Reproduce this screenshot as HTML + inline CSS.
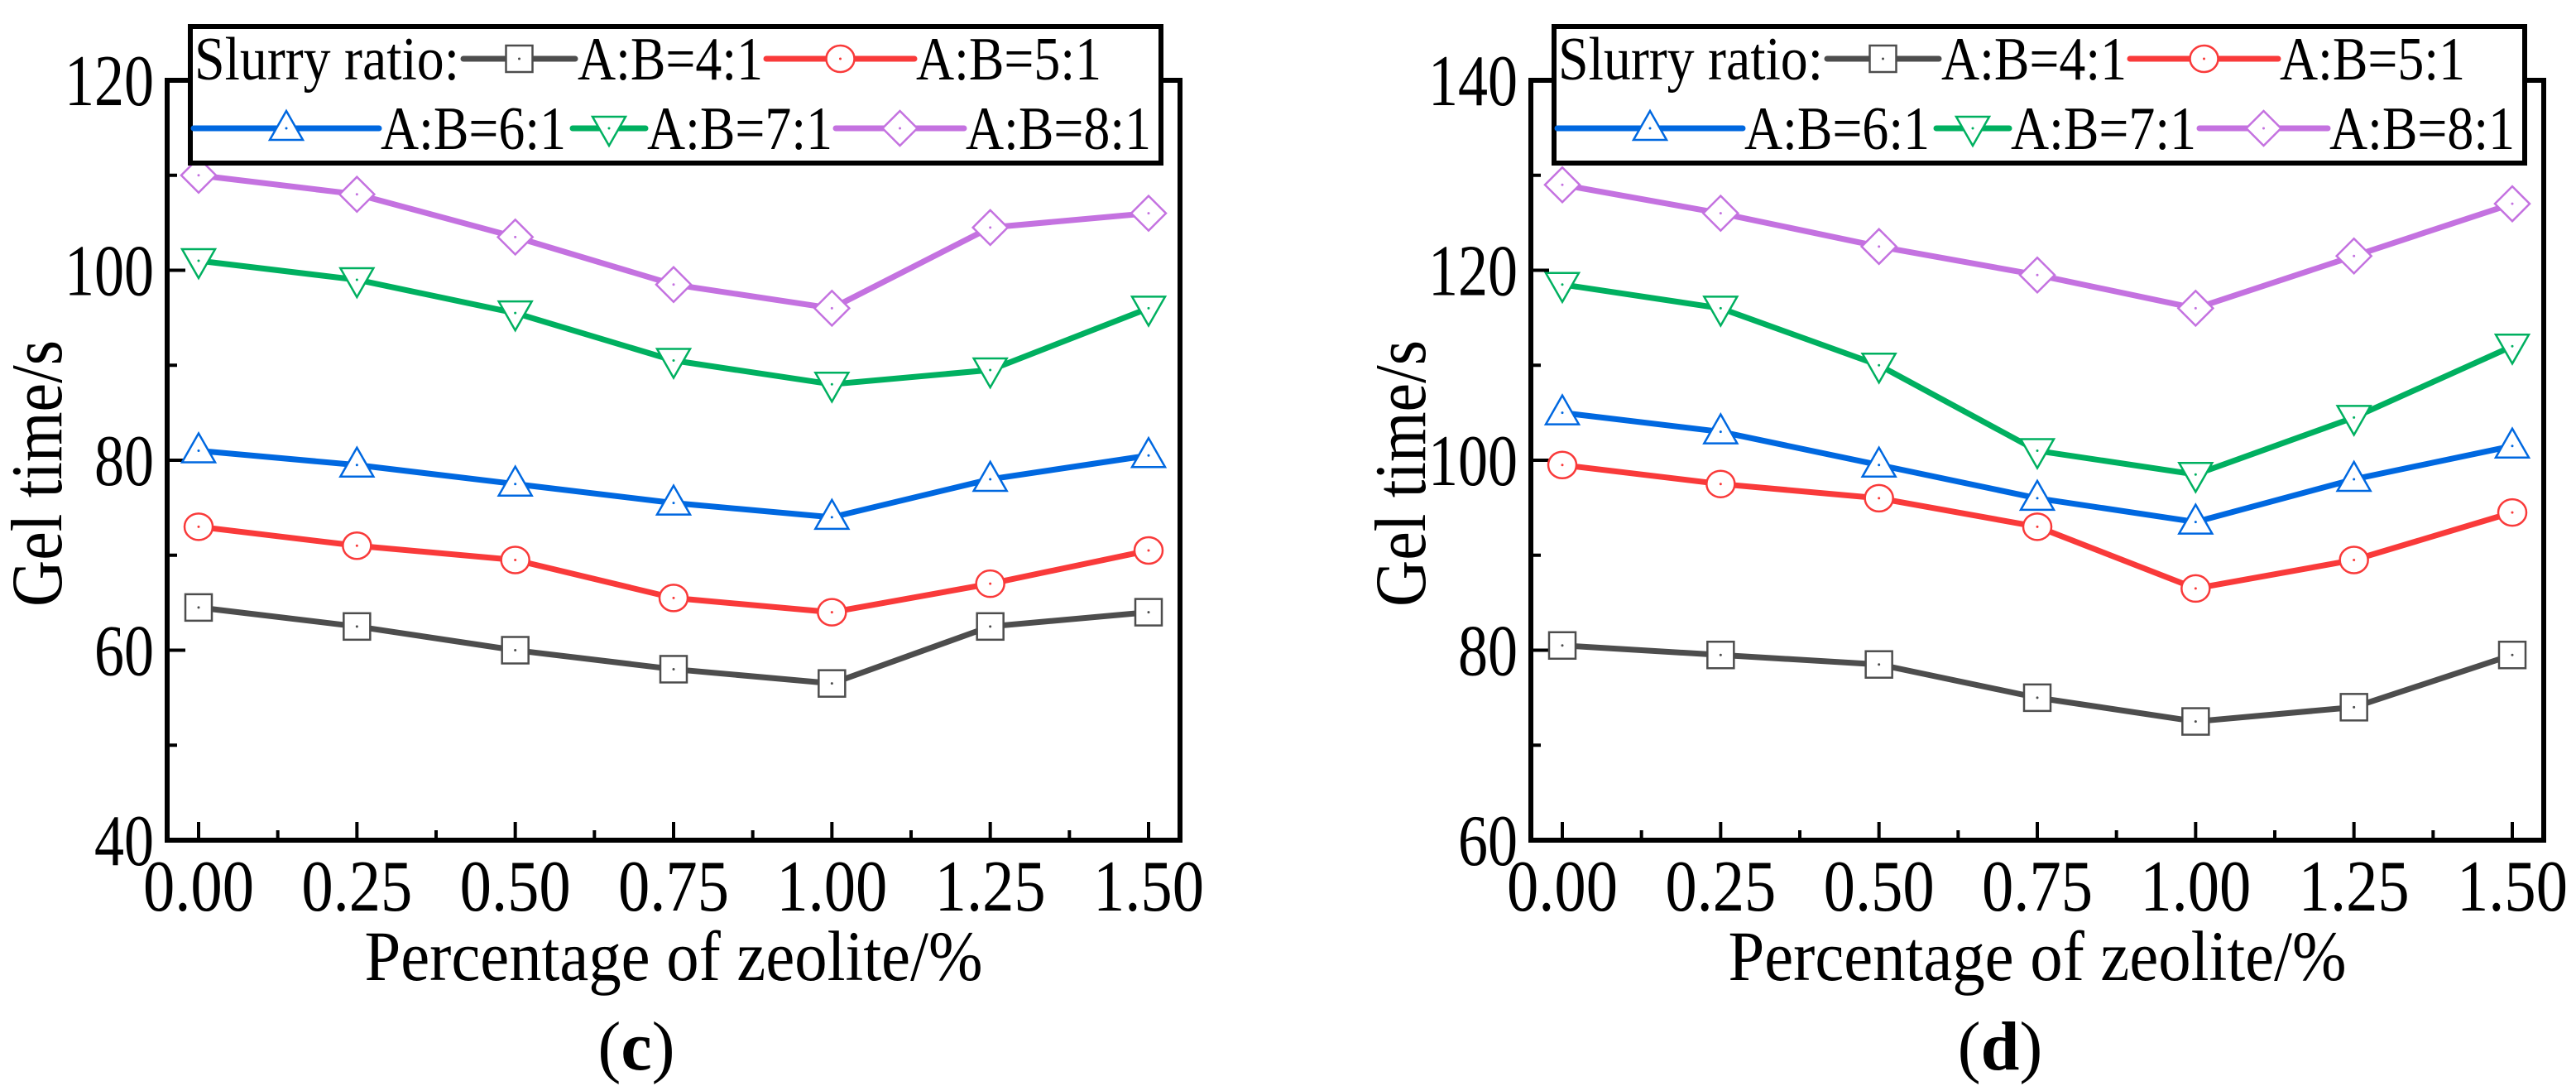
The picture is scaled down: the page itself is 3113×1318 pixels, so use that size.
<!DOCTYPE html>
<html><head><meta charset="utf-8"><style>
html,body{margin:0;padding:0;background:#fff;}
svg{display:block;font-family:"Liberation Serif","Times New Roman",serif;}
</style></head><body>
<svg id="fig" width="3113" height="1318" viewBox="0 0 3113 1318" xmlns="http://www.w3.org/2000/svg"></svg>
<script>
const xValues = [0, 0.25, 0.5, 0.75, 1.0, 1.25, 1.5];
const xTickLabels = ["0.00","0.25","0.50","0.75","1.00","1.25","1.50"];
const seriesNames = ["A:B=4:1","A:B=5:1","A:B=6:1","A:B=7:1","A:B=8:1"];
const c_4 = [64.5, 62.5, 60, 58, 56.5, 62.5, 64];
const c_5 = [73, 71, 69.5, 65.5, 64, 67, 70.5];
const c_6 = [81, 79.5, 77.5, 75.5, 74, 78, 80.5];
const c_7 = [101, 99, 95.5, 90.5, 88, 89.5, 96];
const c_8 = [110, 108, 103.5, 98.5, 96, 104.5, 106];
const d_4 = [80.5, 79.5, 78.5, 75, 72.5, 74, 79.5];
const d_5 = [99.5, 97.5, 96, 93, 86.5, 89.5, 94.5];
const d_6 = [105, 103, 99.5, 96, 93.5, 98, 101.5];
const d_7 = [118.5, 116, 110, 101, 98.5, 104.5, 112];
const d_8 = [129, 126, 122.5, 119.5, 116, 121.5, 127];
const c_yTicks = [40, 60, 80, 100, 120];
const d_yTicks = [60, 80, 100, 120, 140];

const NS = "http://www.w3.org/2000/svg";
const svg = document.getElementById("fig");
const colors = ["#4d4d4d","#f93a3a","#0068e0","#00b060","#c472e0"];
const shapes = ["square","circle","tri","tridown","diamond"];
function el(tag, attrs, parent){const e=document.createElementNS(NS,tag);for(const k in attrs)e.setAttribute(k,attrs[k]);(parent||svg).appendChild(e);return e;}
function fit(t,len){t.setAttribute("textLength",len);t.setAttribute("lengthAdjust","spacingAndGlyphs");}

function marker(g, shape, cx, cy, color){
  const sw=2.5;let m;
  if(shape==="square") m=el("rect",{x:cx-16,y:cy-16,width:32,height:32,fill:"#fff",stroke:color,"stroke-width":sw},g);
  else if(shape==="circle") m=el("ellipse",{cx:cx,cy:cy,rx:17,ry:16,fill:"#fff",stroke:color,"stroke-width":sw},g);
  else if(shape==="tri") m=el("polygon",{points:`${cx},${cy-21} ${cx-20},${cy+14} ${cx+20},${cy+14}`,fill:"#fff",stroke:color,"stroke-width":sw},g);
  else if(shape==="tridown") m=el("polygon",{points:`${cx},${cy+21} ${cx-20},${cy-14} ${cx+20},${cy-14}`,fill:"#fff",stroke:color,"stroke-width":sw},g);
  else m=el("polygon",{points:`${cx},${cy-21} ${cx+21},${cy} ${cx},${cy+21} ${cx-21},${cy}`,fill:"#fff",stroke:color,"stroke-width":sw},g);
  
  
  el("circle",{cx:cx,cy:cy,r:1.5,fill:color},g);
}

function drawChart(id, dx, series, yTicks, yMin, yMax, label){
  const L=202+dx, R=1426+dx, T=97, B=1015;
  const x0=240+dx, x1=1388+dx;
  const xs=v=>x0+(v-xValues[0])/(xValues[xValues.length-1]-xValues[0])*(x1-x0);
  const ys=v=>B-(v-yMin)/(yMax-yMin)*(B-T);
  const g=el("g",{});
  
  
  const f=el("rect",{x:L,y:T,width:R-L,height:B-T,fill:"none",stroke:"#000","stroke-width":6},g);
  
  
  yTicks.forEach((t,i)=>{
    const y=ys(t);
    el("line",{x1:L,x2:L+22,y1:y,y2:y,stroke:"#000","stroke-width":4},g);
    if(i<yTicks.length-1){const ym=ys(t+(yTicks[1]-yTicks[0])/2);el("line",{x1:L,x2:L+12,y1:ym,y2:ym,stroke:"#000","stroke-width":4},g);}
    const tx=el("text",{x:L-16,y:y+30,"text-anchor":"end","font-size":88},g);
    tx.textContent=t;
    fit(tx,String(t).length*36);
    
    
  });
  xValues.forEach((v,i)=>{
    const x=xs(v);
    el("line",{x1:x,x2:x,y1:B,y2:B-22,stroke:"#000","stroke-width":4},g);
    if(i<xValues.length-1){const xm=xs(v+0.125);el("line",{x1:xm,x2:xm,y1:B,y2:B-12,stroke:"#000","stroke-width":4},g);}
    const tx=el("text",{x:x,y:1100,"text-anchor":"middle","font-size":88},g);
    tx.textContent=xTickLabels[i];
    fit(tx,134);
    
    
  });
  const xt=el("text",{x:(L+R)/2,y:1184,"text-anchor":"middle","font-size":86},g);
  xt.textContent="Percentage of zeolite/%";
  fit(xt,747);
  
  
  const yt=el("text",{x:0,y:0,"text-anchor":"middle","font-size":88,transform:`translate(${74+dx},${(T+B)/2+16}) rotate(-90)`},g);
  yt.textContent="Gel time/s";
  fit(yt,322);
  
  
  const pl=el("text",{x:(L+R)/2-45,y:1292,"text-anchor":"middle","font-size":84},g);
  pl.innerHTML='(<tspan font-weight="bold">'+label+'</tspan>)';
  
  
  series.forEach((s,si)=>{
    const sg=el("g",{},g);
    
    
    const pts=s.map((v,i)=>xs(xValues[i])+","+ys(v)).join(" ");
    const pl=el("polyline",{points:pts,fill:"none",stroke:colors[si],"stroke-width":7,"stroke-linejoin":"round","stroke-linecap":"round"},sg);
    
    
    s.forEach((v,i)=>marker(sg,shapes[si],xs(xValues[i]),ys(v),colors[si]));
  });
  const lg=el("g",{},g);
  
  
  const lb=el("rect",{x:230+dx,y:32,width:1173,height:165,fill:"#fff",stroke:"#000","stroke-width":6},lg);
  
  
  const lt=el("text",{x:235+dx,y:96,"font-size":74},lg);
  lt.textContent="Slurry ratio:";
  fit(lt,320);
  
  
  const entries=[[560,695,698,96],[926,1105,1107,96],[234,458,460,180],[692,780,782,180],[1010,1165,1167,180]];
  entries.forEach((e,i)=>{
    const eg=el("g",{},lg);
    
    
    const cy=e[3]-25;
    el("line",{x1:e[0]+dx,x2:e[1]+dx,y1:cy,y2:cy,stroke:colors[i],"stroke-width":7,"stroke-linecap":"round"},eg);
    marker(eg,shapes[i],(e[0]+e[1])/2+dx,cy,colors[i]);
    const t=el("text",{x:e[2]+dx,y:e[3],"font-size":74},eg);
    t.textContent=seriesNames[i];
    fit(t,224);
  });
}
drawChart("c",0,[c_4,c_5,c_6,c_7,c_8],c_yTicks,40,120,"c");
drawChart("d",1648,[d_4,d_5,d_6,d_7,d_8],d_yTicks,60,140,"d");
</script>
</body></html>
